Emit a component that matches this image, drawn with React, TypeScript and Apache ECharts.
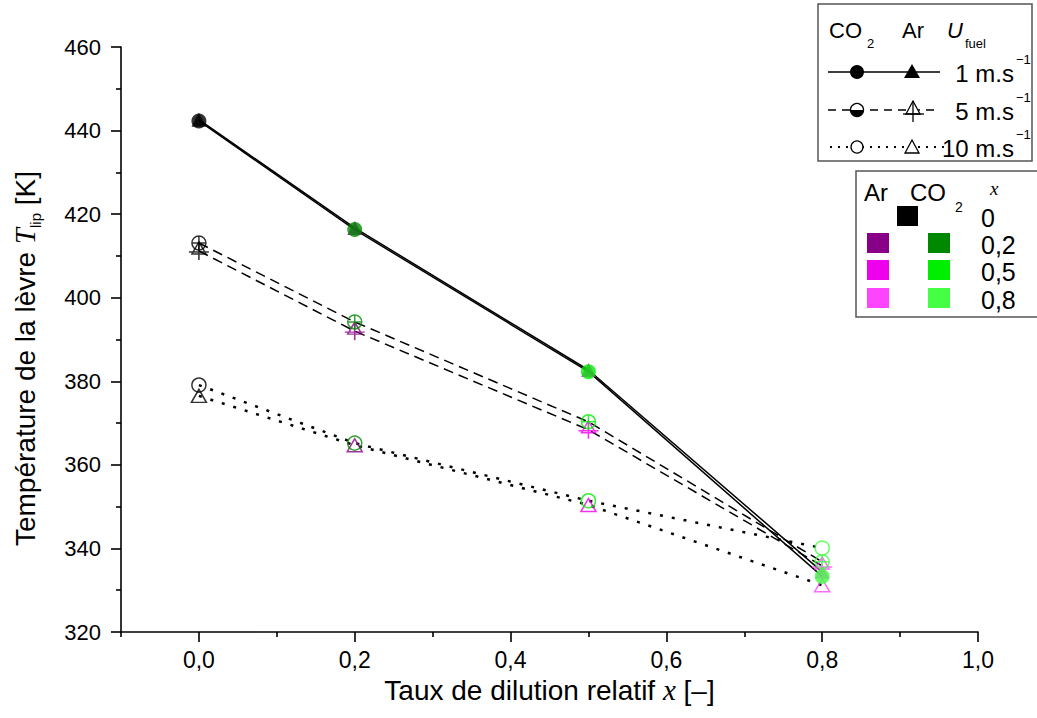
import React, { useEffect, useRef } from "react";
import * as echarts from "echarts";

// ---- data ----
const xValues = [0, 0.2, 0.5, 0.8];
const co2_1 = [442.3, 416.3, 382.3, 333.3];
const ar_1 = [442.6, 416.7, 382.7, 334.4];
const co2_5 = [413.1, 394.2, 370.3, 336.8];
const ar_5 = [411.2, 392.0, 368.4, 335.8];
const co2_10 = [379.1, 365.2, 351.4, 340.1];
const ar_10 = [376.5, 364.7, 350.4, 331.2];
const co2Colors = ["#000000", "#008800", "#00ee00", "#44ff44"];
const arColors = ["#000000", "#880088", "#ee00ee", "#ff44ff"];
const xMajorTicks = [0, 0.2, 0.4, 0.6, 0.8, 1.0];
const xMinorTicks = [-0.1, 0.1, 0.3, 0.5, 0.7, 0.9];
const legendXLabels = ["0", "0,2", "0,5", "0,8"];
const speedLabels = ["1 m.s", "5 m.s", "10 m.s"];

const SANS = "Liberation Sans, Arial, sans-serif";
const SERIF = "Liberation Serif, Times New Roman, serif";

const circlePlus = "path://M0,-7A7,7,0,1,1,0,7A7,7,0,1,1,0,-7ZM-7,0L7,0M0,-7L0,7";
const triPlus = "path://M0,-9L7,3L-7,3ZM-10,1L10,1M0,-9L0,9";

function lineSeries(vals: number[], type: any, width: number) {
  return {
    type: "line",
    data: xValues.map((x, i) => [x, vals[i]]),
    symbol: "none",
    silent: true,
    z: 2,
    lineStyle: { color: "#000", width, type, cap: "butt" },
  };
}

function markerSeries(vals: number[], colors: string[], symbol: string, size: any, filled: boolean) {
  return {
    type: "scatter",
    z: 3,
    symbol,
    symbolSize: size,
    data: xValues.map((x, i) => ({
      value: [x, vals[i]],
      itemStyle: filled
        ? { color: colors[i] }
        : { color: "rgba(0,0,0,0)", borderColor: colors[i], borderWidth: 1.5 },
    })),
  };
}

function txt(text: string, x: number, y: number, size: number, opts: any = {}) {
  return {
    type: "text",
    z: 20,
    style: {
      text,
      x,
      y,
      fill: "#000",
      fontSize: size,
      fontFamily: opts.family || SANS,
      fontStyle: opts.italic ? "italic" : "normal",
      align: opts.align || "left",
      textAlign: opts.align || "left",
      verticalAlign: "middle",
      textVerticalAlign: "middle",
    },
  };
}

function buildGraphics() {
  const g: any[] = [];
  // Legend box 1
  g.push({ type: "rect", z: 10, shape: { x: 818, y: 4, width: 214, height: 157 }, style: { fill: "#fff", stroke: "#555", lineWidth: 1.5 } });
  g.push(txt("CO", 829, 30, 22));
  g.push(txt("2", 867, 43, 13));
  g.push(txt("Ar", 902, 30, 22));
  g.push(txt("U", 947, 30, 22, { italic: true }));
  g.push(txt("fuel", 965, 43, 13));
  const rows = [72, 110, 147];
  // row lines
  g.push({ type: "line", z: 20, shape: { x1: 828, y1: rows[0], x2: 940, y2: rows[0] }, style: { stroke: "#000", lineWidth: 1.5 } });
  g.push({ type: "line", z: 20, shape: { x1: 828, y1: rows[1], x2: 940, y2: rows[1] }, style: { stroke: "#000", lineWidth: 1.5, lineDash: [8, 6] } });
  g.push({ type: "line", z: 20, shape: { x1: 830, y1: rows[2], x2: 944, y2: rows[2] }, style: { stroke: "#000", lineWidth: 2, lineDash: [2, 6] } });
  // row 1 markers
  g.push({ type: "circle", z: 21, shape: { cx: 857, cy: rows[0], r: 7 }, style: { fill: "#000" } });
  g.push({ type: "polygon", z: 21, shape: { points: [[912, rows[0] - 8], [920, rows[0] + 6], [904, rows[0] + 6]] }, style: { fill: "#000" } });
  // row 2 markers
  g.push({ type: "circle", z: 21, shape: { cx: 857, cy: rows[1], r: 6.5 }, style: { fill: "#fff", stroke: "#000", lineWidth: 1.3 } });
  g.push({ type: "sector", z: 22, shape: { cx: 857, cy: rows[1], r: 6.5, r0: 0, startAngle: 0, endAngle: Math.PI, clockwise: true }, style: { fill: "#000" } });
  g.push({ type: "polygon", z: 21, shape: { points: [[913, rows[1] - 9], [920, rows[1] + 4], [906, rows[1] + 4]] }, style: { fill: "#fff", stroke: "#000", lineWidth: 1.3 } });
  g.push({ type: "line", z: 22, shape: { x1: 903, y1: rows[1] + 4, x2: 924, y2: rows[1] + 4 }, style: { stroke: "#000", lineWidth: 1.3 } });
  g.push({ type: "line", z: 22, shape: { x1: 913, y1: rows[1] - 9, x2: 913, y2: rows[1] + 12 }, style: { stroke: "#000", lineWidth: 1.3 } });
  // row 3 markers
  g.push({ type: "circle", z: 21, shape: { cx: 857, cy: rows[2], r: 6 }, style: { fill: "#fff", stroke: "#000", lineWidth: 1.3 } });
  g.push({ type: "polygon", z: 21, shape: { points: [[912, rows[2] - 7], [919, rows[2] + 6], [905, rows[2] + 6]] }, style: { fill: "#fff", stroke: "#000", lineWidth: 1.3 } });
  // speed labels
  speedLabels.forEach((s, i) => {
    g.push(txt(s, 1014, rows[i] + 1, 24, { align: "right" }));
    g.push(txt("\u22121", 1016, rows[i] - 13, 13));
  });

  // Legend box 2
  g.push({ type: "rect", z: 10, shape: { x: 856, y: 171, width: 200, height: 146 }, style: { fill: "#fff", stroke: "#555", lineWidth: 1.5 } });
  g.push(txt("Ar", 864, 192, 24));
  g.push(txt("CO", 910, 192, 24));
  g.push(txt("2", 955, 207, 14));
  g.push(txt("x", 990, 188, 19, { italic: true, family: SERIF }));
  const sqRows = [216, 243, 270, 298];
  g.push({ type: "rect", z: 21, shape: { x: 897, y: sqRows[0] - 10, width: 21, height: 20 }, style: { fill: co2Colors[0] } });
  for (let i = 1; i < 4; i++) {
    g.push({ type: "rect", z: 21, shape: { x: 867, y: sqRows[i] - 10, width: 22, height: 20 }, style: { fill: arColors[i] } });
    g.push({ type: "rect", z: 21, shape: { x: 928, y: sqRows[i] - 10, width: 22, height: 20 }, style: { fill: co2Colors[i] } });
  }
  legendXLabels.forEach((l, i) => g.push(txt(l, 981, sqRows[i] + 2, 25)));
  return g;
}

function buildOption() {
  const axisLineStyle = { color: "#000", width: 1.6 };
  return {
    animation: false,
    backgroundColor: "#fff",
    grid: { left: 121, right: 59, top: 47, bottom: 86, containLabel: false, outerBoundsMode: "none" },
    xAxis: [
      {
        type: "value",
        position: "bottom",
        min: -0.1,
        max: 1.0,
        axisLine: { show: true, onZero: false, lineStyle: axisLineStyle },
        axisTick: { show: true, customValues: xMajorTicks, length: 10, lineStyle: axisLineStyle },
        axisLabel: {
          customValues: xMajorTicks,
          formatter: (v: number) => v.toFixed(1).replace(".", ","),
          fontSize: 23,
          fontFamily: SANS,
          color: "#000",
          margin: 16,
        },
        splitLine: { show: false },
        name: "Taux de dilution relatif {i|x} [\u2013]",
        nameLocation: "middle",
        nameGap: 41,
        nameTextStyle: {
          fontSize: 28,
          fontFamily: SANS,
          color: "#000",
          rich: { i: { fontSize: 29, fontFamily: SERIF, fontStyle: "italic", color: "#000" } },
        },
      },
      {
        type: "value",
        position: "bottom",
        min: -0.1,
        max: 1.0,
        axisLine: { show: false },
        axisTick: { show: true, customValues: xMinorTicks, length: 5, lineStyle: axisLineStyle },
        axisLabel: { show: false },
        splitLine: { show: false },
      },
    ],
    yAxis: {
      type: "value",
      min: 320,
      max: 460,
      interval: 20,
      axisLine: { show: true, onZero: false, lineStyle: axisLineStyle },
      axisTick: { show: true, length: 10, lineStyle: axisLineStyle },
      minorTick: { show: true, splitNumber: 2, length: 5, lineStyle: axisLineStyle },
      axisLabel: { fontSize: 22, fontFamily: SANS, color: "#000", margin: 20 },
      splitLine: { show: false },
      minorSplitLine: { show: false },
      name: "Temp\u00e9rature de la l\u00e8vre {t|T}{s|lip} [K]",
      nameLocation: "middle",
      nameRotate: 90,
      nameGap: 78,
      nameTextStyle: {
        fontSize: 28,
        fontFamily: SANS,
        color: "#000",
        lineHeight: 36,
        padding: [0, 38, 0, 0],
        rich: {
          t: { fontSize: 29, fontFamily: SERIF, fontStyle: "italic", color: "#000", lineHeight: 36 },
          s: { fontSize: 15, fontFamily: SANS, color: "#000", lineHeight: 16, verticalAlign: "bottom" },
        },
      },
    },
    series: [
      lineSeries(co2_1, "solid", 1.5),
      lineSeries(ar_1, "solid", 1.5),
      lineSeries(co2_5, [10, 6], 1.5),
      lineSeries(ar_5, [10, 6], 1.5),
      lineSeries(co2_10, [3, 9], 2.5),
      lineSeries(ar_10, [3, 9], 2.5),
      markerSeries(ar_10, arColors, "triangle", [15, 13], false),
      markerSeries(ar_5, arColors, triPlus, [20, 18], false),
      markerSeries(ar_1, arColors, "triangle", [15, 14], true),
      markerSeries(co2_10, co2Colors, "circle", 14, false),
      markerSeries(co2_5, co2Colors, circlePlus, 14, false),
      markerSeries(co2_1, co2Colors, "circle", 15, true),
    ],
    graphic: buildGraphics(),
  };
}

export default function App() {
  const ref = useRef<HTMLDivElement>(null);
  useEffect(() => {
    document.body.style.margin = "0";
    const chart = echarts.init(ref.current!, null, { renderer: "svg" });
    chart.setOption(buildOption() as any);
    return () => chart.dispose();
  }, []);
  return <div ref={ref} style={{ width: 1037, height: 718 }} />;
}
